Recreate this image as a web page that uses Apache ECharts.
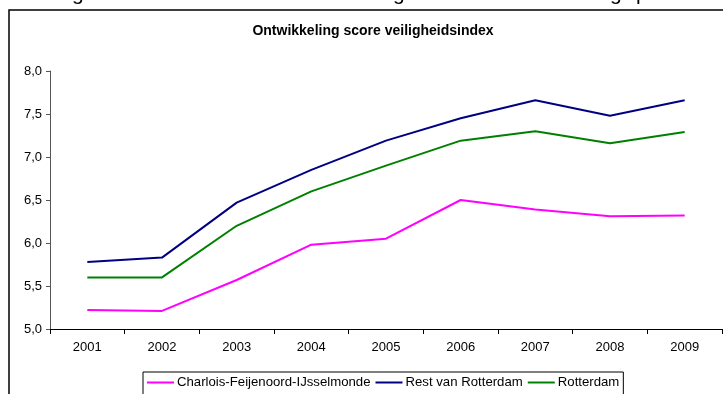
<!DOCTYPE html>
<html>
<head>
<meta charset="utf-8">
<script src="https://cdn.jsdelivr.net/npm/echarts@6/dist/echarts.min.js"></script>
<style>
  html, body { margin: 0; padding: 0; background: #fff; }
  #chart { width: 723px; height: 394px; }
</style>
</head>
<body>
<div id="chart"></div>
<script>
// Veiligheidsindex per gebied, 2001-2009
const years = ['2001', '2002', '2003', '2004', '2005', '2006', '2007', '2008', '2009'];
const charlois = [5.22, 5.21, 5.57, 5.98, 6.05, 6.50, 6.39, 6.31, 6.32];
const restRotterdam = [5.78, 5.83, 6.47, 6.85, 7.19, 7.45, 7.66, 7.48, 7.66];
const rotterdam = [5.60, 5.60, 6.20, 6.60, 6.90, 7.19, 7.30, 7.16, 7.29];
const seriesNames = ['Charlois-Feijenoord-IJsselmonde', 'Rest van Rotterdam', 'Rotterdam'];
const seriesColors = ['#FF00FF', '#000080', '#008000'];

const font = 'Arial, "Liberation Sans", sans-serif';
const chart = echarts.init(document.getElementById('chart'), null, { renderer: 'canvas' });

const makeLine = (name, data, color) => ({
  name: name,
  type: 'line',
  data: data,
  showSymbol: false,
  symbol: 'none',
  lineStyle: { color: color, width: 2 },
  itemStyle: { color: color },
  animation: false
});

chart.setOption({
  backgroundColor: '#fff',
  animation: false,
  title: {
    text: 'Ontwikkeling score veiligheidsindex',
    left: 368,
    top: 19,
    textAlign: 'center',
    textStyle: { fontFamily: font, fontSize: 14, fontWeight: 'bold', color: '#000' }
  },
  legend: {
    left: 143,
    top: 372,
    orient: 'horizontal',
    borderColor: '#000',
    borderWidth: 1,
    padding: [4, 4, 12, 4],
    itemGap: 5,
    itemWidth: 27,
    itemHeight: 2,
    icon: 'rect',
    textStyle: { fontFamily: font, fontSize: 13.2, color: '#000', padding: [0, 0, 0, -2] },
    data: seriesNames
  },
  grid: { left: 50, right: 1, top: 71, bottom: 65, containLabel: false },
  xAxis: {
    type: 'category',
    data: years,
    boundaryGap: true,
    axisLine: { lineStyle: { color: '#000', width: 1 } },
    axisTick: { show: true, alignWithLabel: false, length: 5, lineStyle: { color: '#000' } },
    axisLabel: { fontFamily: font, fontSize: 13, color: '#000', margin: 12 },
    splitLine: { show: false }
  },
  yAxis: {
    type: 'value',
    min: 5,
    max: 8,
    interval: 0.5,
    axisLine: { show: true, lineStyle: { color: '#555', width: 1 } },
    axisTick: { show: true, length: 4, lineStyle: { color: '#555' } },
    axisLabel: {
      fontFamily: font, fontSize: 13, color: '#000', margin: 8,
      formatter: v => v.toFixed(1).replace('.', ',')
    },
    splitLine: { show: false }
  },
  graphic: [
    {
      type: 'rect',
      shape: { x: 9, y: 10, width: 760, height: 420 },
      style: { fill: 'none', stroke: '#000', lineWidth: 1.5 },
      silent: true,
      z: -1
    },
    // descenders of the line of body text above the frame
    { type: 'text', x: 72, y: 5, style: { text: 'g', font: '21px ' + font, fill: '#000', verticalAlign: 'bottom' } },
    { type: 'text', x: 393, y: 5, style: { text: 'g', font: '21px ' + font, fill: '#000', verticalAlign: 'bottom' } },
    { type: 'text', x: 610, y: 5, style: { text: 'g', font: '21px ' + font, fill: '#000', verticalAlign: 'bottom' } },
    { type: 'text', x: 636, y: 5, style: { text: 'p', font: '21px ' + font, fill: '#000', verticalAlign: 'bottom' } }
  ],
  series: [
    makeLine(seriesNames[0], charlois, seriesColors[0]),
    makeLine(seriesNames[1], restRotterdam, seriesColors[1]),
    makeLine(seriesNames[2], rotterdam, seriesColors[2])
  ]
});
</script>
</body>
</html>
